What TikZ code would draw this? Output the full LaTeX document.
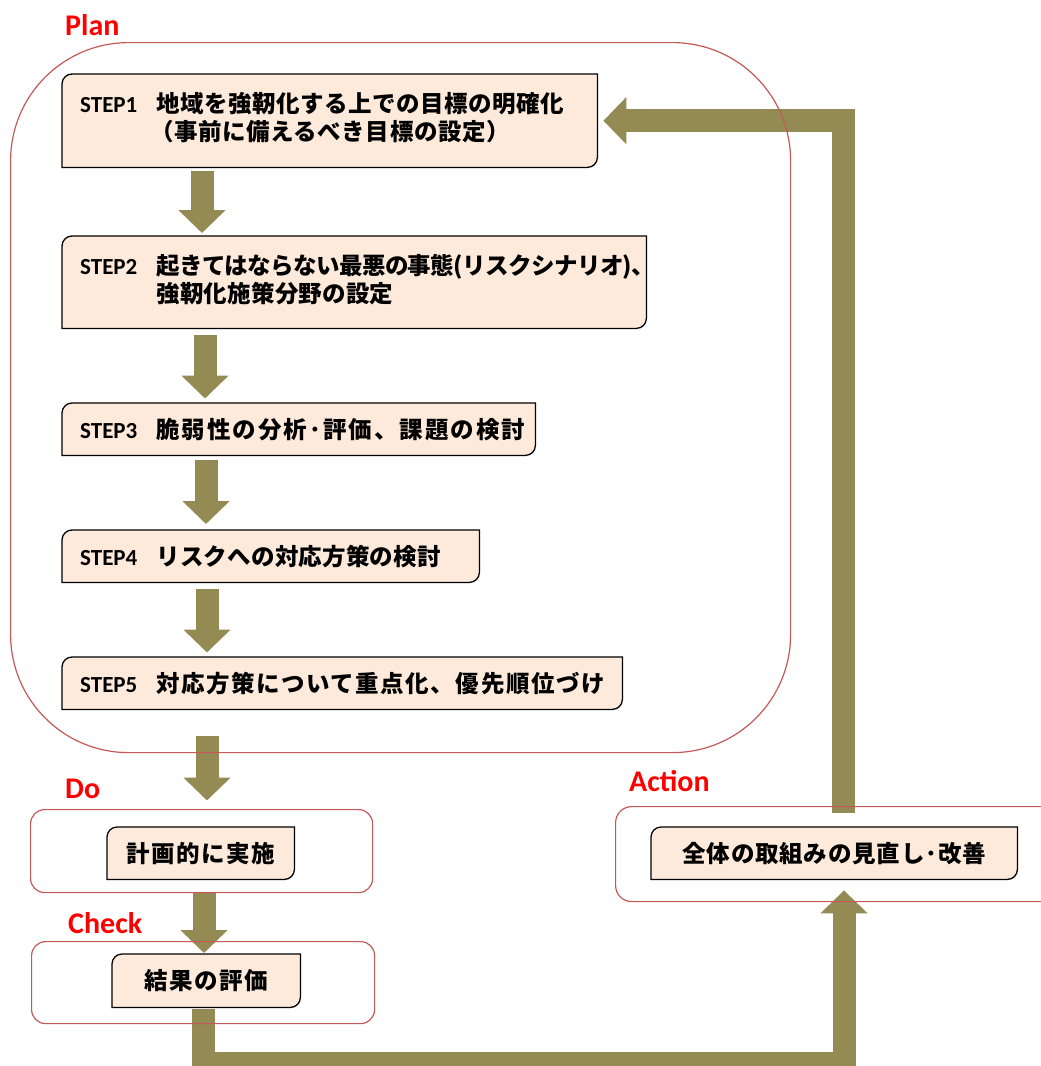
\documentclass[tikz,border=0pt]{standalone}
\usepackage{fontspec}
\setmainfont{Carlito}
\newfontfamily\jp{Noto Sans CJK JP}
\usetikzlibrary{arrows.meta}
\definecolor{arrowol}{RGB}{148,138,84}
\definecolor{peach}{RGB}{253,234,218}
\definecolor{framec}{RGB}{196,89,87}
\definecolor{lblred}{RGB}{255,0,0}
\pgfdeclarelayer{arrowlayer}
\pgfdeclarelayer{framelayer}
\pgfdeclarelayer{boxlayer}
\pgfsetlayers{arrowlayer,framelayer,boxlayer,main}
\newcommand\stp[1]{{\fontsize{23}{27}\selectfont #1}\hspace{19pt}}
\newcommand\lsp[1]{\addfontfeature{LetterSpace=#1}}
\newcommand\diagshape[1]{%
  \begin{pgfonlayer}{boxlayer}
    \draw[fill=peach, draw=black, line width=1.3pt]
      (#1.south west) -- ([yshift=-10pt]#1.north west)
      arc[start angle=180,end angle=90,radius=10pt] -- (#1.north east)
      -- ([yshift=10pt]#1.south east)
      arc[start angle=0,end angle=-90,radius=10pt] -- cycle;
  \end{pgfonlayer}}
\tikzset{
  stepbox/.style={anchor=north west, inner xsep=18pt, inner ysep=2pt, align=left,
    font=\fontsize{23.5}{27}\selectfont\bfseries},
  cbox/.style={anchor=north west, inner sep=0pt, align=center,
    font=\fontsize{23.5}{27}\selectfont\bfseries\jp},
  blk/.style={draw=arrowol, line width=23pt, line cap=butt, line join=miter,
    -{Triangle[width=46pt,length=23pt]}},
  frm/.style={draw=framec, line width=1.2pt, anchor=north west, inner sep=0pt},
  lbl/.style={anchor=base west, text=lblred, inner sep=0pt,
    font=\fontsize{30}{32}\selectfont\bfseries},
}
\begin{document}
\begin{tikzpicture}[x=1pt,y=-1pt]
\useasboundingbox (0,0) rectangle (1041,1066);

% frames
\begin{pgfonlayer}{framelayer}
\node[frm, rounded corners=118pt, minimum width=780pt, minimum height=710pt] (pf) at (10,42) {};
\node[frm, rounded corners=14pt, minimum width=342pt, minimum height=83pt] (df) at (30,809) {};
\node[frm, rounded corners=14pt, minimum width=343pt, minimum height=82pt] (cf) at (31,941) {};
\node[frm, rounded corners=16pt, minimum width=450pt, minimum height=95pt] (af) at (615,806) {};
\end{pgfonlayer}

% labels
\node[lbl] (lplan) at (65,35) {Plan};
\node[lbl] (ldo) at (65,798) {Do};
\node[lbl] (lcheck) at (68,933) {Check};
\node[lbl] (laction) at (629,791) {Action};

% step boxes
\node[stepbox, text width=499pt, minimum height=93pt] (s1) at (62,74)
  {\stp{STEP1}{\jp\lsp{2.3}\begin{tabular}[t]{@{}l@{}}地域を強靭化する上での目標の明確化\\\hspace{-6pt}（事前に備えるべき目標の設定）\end{tabular}}};
\node[stepbox, text width=548pt, minimum height=92pt] (s2) at (62,236)
  {\stp{STEP2}{\jp\lsp{1}\begin{tabular}[t]{@{}l@{}}{\lsp{-2.5}起きてはならない最悪の事態(リスクシナリオ)、}\\強靭化施策分野の設定\end{tabular}}};
\node[stepbox, text width=437pt, minimum height=52pt] (s3) at (62,403)
  {\stp{STEP3}{\jp\lsp{8.5}脆弱性の分析･評価、課題の検討}};
\node[stepbox, text width=381pt, minimum height=52pt] (s4) at (62,530)
  {\stp{STEP4}{\jp\lsp{1}リスクへの対応方策の検討}};
\node[stepbox, text width=524pt, minimum height=52pt] (s5) at (62,657)
  {\stp{STEP5}{\jp\lsp{6.5}対応方策について重点化、優先順位づけ}};
\node[cbox, minimum width=187pt, minimum height=52pt] (dob) at (107,827) {\lsp{7}計画的に実施};
\node[cbox, minimum width=188pt, minimum height=53pt] (ckb) at (112,954) {\lsp{7}結果の評価};
\node[cbox, minimum width=366pt, minimum height=52pt] (acb) at (651,827) {\lsp{3.5}全体の取組みの見直し･改善};
\foreach \n in {s1,s2,s3,s4,s5,dob,ckb,acb} {\diagshape{\n}}

% arrows
\begin{pgfonlayer}{arrowlayer}
\draw[blk] ([xshift=140pt,yshift=-4pt]s1.south west) -- ([xshift=140pt,yshift=3pt]s2.north west);
\draw[blk] ([xshift=143pt,yshift=-7pt]s2.south west) -- ([xshift=143pt,yshift=4.5pt]s3.north west);
\draw[blk] ([xshift=144pt,yshift=-5pt]s3.south west) -- ([xshift=144pt,yshift=6pt]s4.north west);
\draw[blk] ([xshift=145pt,yshift=-7pt]s4.south west) -- ([xshift=145pt,yshift=4.5pt]s5.north west);
\draw[blk] ([xshift=145pt,yshift=-27pt]s5.south west) -- ([xshift=177pt,yshift=8.5pt]df.north west);
\draw[blk] ([xshift=174pt,yshift=1pt]df.south west) -- ([xshift=92pt,yshift=1pt]ckb.north west);
\coordinate (bend) at (520,1063.5);
\draw[blk] ([xshift=91pt,yshift=-2pt]ckb.south west) |- (bend) -| ([xshift=193pt,yshift=-11pt]acb.south west);
\draw[blk] ([xshift=228pt,yshift=-7pt]af.north west) |- ([xshift=6pt]s1.east);
\end{pgfonlayer}
\end{tikzpicture}
\end{document}
